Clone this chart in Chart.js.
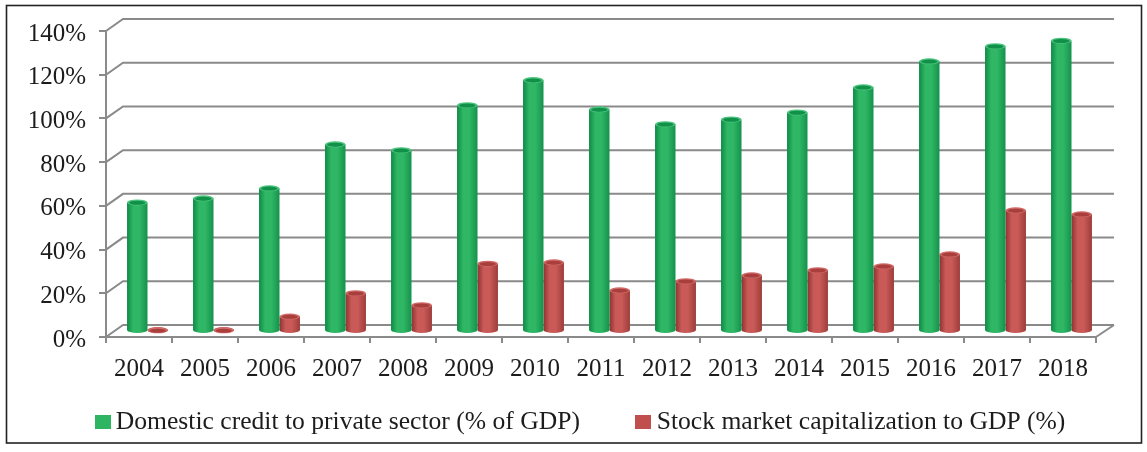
<!DOCTYPE html>
<html><head><meta charset="utf-8">
<style>html,body{margin:0;padding:0;background:#fff}#wrap{width:1147px;height:452px}</style>
<script src="https://cdn.jsdelivr.net/npm/chart.js@4"></script>
</head><body><div id="wrap"><canvas id="c" width="1147" height="452"></canvas></div>
<script>
const years = ['2004','2005','2006','2007','2008','2009','2010','2011','2012','2013','2014','2015','2016','2017','2018'];
const domesticCredit = [58.8,60.7,65.3,85.4,82.7,103.3,114.8,101.4,94.6,96.8,100,111.5,123.4,130.3,132.8];
const stockMarketCap = [0.3,0.3,6.6,17.3,11.8,30.8,31.4,18.6,22.8,25.5,27.8,29.6,35.1,55.2,53.4];
const seriesNames = ['Domestic credit to private sector (% of GDP)','Stock market capitalization to GDP (%)'];
const yTicks = [0,20,40,60,80,100,120,140];

const GRID='#8a8a8a', TXT='#1c1c1c', FONT='"Liberation Serif","Times New Roman",serif';
const DX=8.5, DY=-6, WALLX=17, WALLY=-12, CATPCT=.62;
function swatch(col){const s=document.createElement('canvas');s.width=16;s.height=14;const g=s.getContext('2d');g.fillStyle=col;g.fillRect(0,0,16,14);return s;}
const swatches=[swatch('#2db562'),swatch('#c0504d')];
const palettes=[
 {edgeL:'#0d8a45',mid:'#2fb765',edgeR:'#14924c',cap:'#109048',rim:'#4cc47e'},
 {edgeL:'#8c3331',mid:'#c95a57',edgeR:'#9d3d3a',cap:'#a93f3c',rim:'#d06a67'}];
function grad(ctx,dsIndex){
  const c=ctx.chart, x=c.scales.x, p=palettes[dsIndex];
  if(!x||!Number.isFinite(x.width)||x.width<=0) return p.mid;
  const w=x.width/years.length*CATPCT/2, cx=x.getPixelForValue(ctx.dataIndex), l=dsIndex===0?cx-w:cx;
  if(!Number.isFinite(l)) return p.mid;
  const g=c.ctx.createLinearGradient(l,0,l+w,0);
  g.addColorStop(0,p.edgeL);g.addColorStop(.3,p.mid);g.addColorStop(.6,p.mid);g.addColorStop(1,p.edgeR);
  return g;
}
const scene={id:'scene',
 afterLayout(c){ c.legend.left=39; c.legend.right=1400; c.legend.top=346; },
 beforeDraw(c){
  const {ctx,chartArea:a,scales:{y}}=c;
  ctx.save();
  ctx.strokeStyle='#222';ctx.lineWidth=1.6;ctx.strokeRect(6.5,5.5,1135,437.5);
  ctx.strokeStyle=GRID;ctx.lineWidth=2;
  yTicks.forEach(v=>{const p=y.getPixelForValue(v);
    ctx.beginPath();ctx.moveTo(a.left,p);ctx.lineTo(a.left+WALLX,p+WALLY);ctx.lineTo(a.right+WALLX+1,p+WALLY);ctx.stroke();});
  ctx.beginPath();ctx.moveTo(a.right,a.bottom);ctx.lineTo(a.right+WALLX+1,a.bottom+WALLY);ctx.stroke();
  ctx.restore();
 },
 beforeDatasetsDraw(c){
  const {ctx}=c; ctx.save(); ctx.translate(DX,DY);
  c.data.datasets.forEach((d,i)=>{c.getDatasetMeta(i).data.forEach((el,j)=>{
    ctx.fillStyle=grad({chart:c,dataIndex:j},i);ctx.beginPath();ctx.ellipse(el.x,el.base,el.width/2,3,0,0,Math.PI*2);ctx.fill();});});
 },
 afterDatasetsDraw(c){
  const {ctx}=c;
  c.data.datasets.forEach((d,i)=>{c.getDatasetMeta(i).data.forEach(el=>{
    ctx.fillStyle=palettes[i].rim;ctx.beginPath();ctx.ellipse(el.x,el.y,el.width/2,3,0,0,Math.PI*2);ctx.fill();
    ctx.fillStyle=palettes[i].cap;ctx.beginPath();ctx.ellipse(el.x,el.y+.3,el.width/2-2,2,0,0,Math.PI*2);ctx.fill();});});
  ctx.restore();
 }};
new Chart(document.getElementById('c'),{
 type:'bar',
 data:{labels:years,datasets:[
  {label:seriesNames[0],data:domesticCredit,backgroundColor:x=>grad(x,0),pointStyle:swatches[0]},
  {label:seriesNames[1],data:stockMarketCap,backgroundColor:x=>grad(x,1),pointStyle:swatches[1]}]},
 plugins:[scene],
 options:{responsive:false,animation:false,
  layout:{padding:{top:31,right:51,left:0,bottom:0}},
  datasets:{bar:{categoryPercentage:CATPCT,barPercentage:1,borderWidth:0}},
  plugins:{tooltip:{enabled:false},
   legend:{position:'bottom',align:'start',maxHeight:32,
    labels:{usePointStyle:true,pointStyleWidth:1,boxHeight:15,padding:63,color:TXT,font:{family:FONT,size:25.6}}}},
  scales:{
   x:{afterFit(s){s.height=83;},
    grid:{drawOnChartArea:false,drawTicks:true,tickLength:6,color:GRID,lineWidth:2,offset:true},
    border:{color:GRID,width:2},
    ticks:{color:TXT,padding:11,maxRotation:0,font:{family:FONT,size:25}}},
   y:{min:0,max:140,afterFit(s){s.width=106;},
    afterBuildTicks(s){s.ticks=yTicks.map(v=>({value:v}));},
    grid:{drawOnChartArea:false,drawTicks:true,tickLength:7,color:GRID,lineWidth:2},
    border:{color:GRID,width:2},
    ticks:{color:TXT,padding:13,labelOffset:3,font:{family:FONT,size:25},callback:v=>v+'%'}}
  }}});
</script></body></html>
